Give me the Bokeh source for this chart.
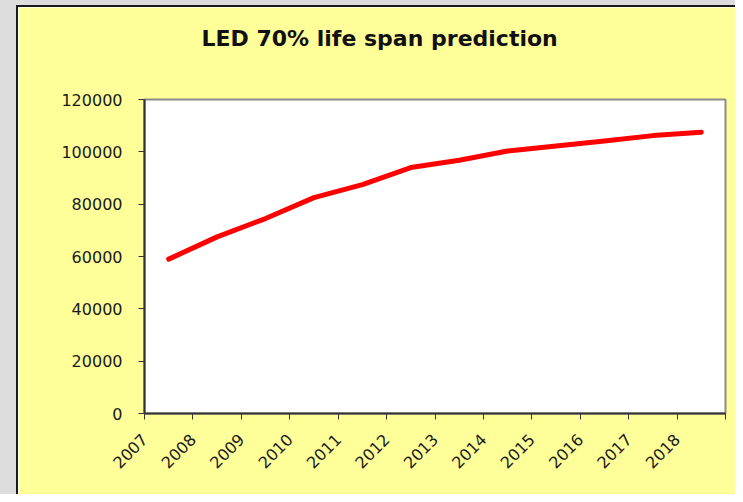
import math
from bokeh.plotting import figure
from bokeh.models import Range1d, FixedTicker, Spacer, LinearAxis
from bokeh.layouts import column, row
from bokeh.embed import file_html
from bokeh.resources import INLINE

title_text = "LED 70% life span prediction"
years = ["2007", "2008", "2009", "2010", "2011", "2012",
         "2013", "2014", "2015", "2016", "2017", "2018"]
life_hours = [59000, 67500, 74500, 82500, 87500, 94000,
              96800, 100300, 102200, 104100, 106200, 107500]
y_ticks = [0, 20000, 40000, 60000, 80000, 100000, 120000]
y_tick_labels = ["0", "20000", "40000", "60000", "80000", "100000", "120000"]

GRAY = "#DDDDDD"
YELLOW = "#FFFF99"
EDGE = "#1a1a1a"

n = len(years)
x_pos = [i + 0.5 for i in range(n)]

p = figure(width=717, height=487, output_backend="svg", toolbar_location=None,
           x_range=Range1d(0, n), y_range=Range1d(y_ticks[0], y_ticks[-1]),
           min_border_left=126, min_border_right=10, min_border_top=92,
           min_border_bottom=81)
p.border_fill_color = YELLOW
p.background_fill_color = "white"
p.outline_line_color = "#8C8C8C"
p.outline_line_width = 2
p.grid.visible = False

p.line(x_pos, life_hours, line_color="#FF0000", line_width=5, line_cap="round",
       line_join="round")

label_font = "DejaVu Sans"
p.xaxis.ticker = FixedTicker(ticks=list(range(n + 1)))
ov = {i: years[i] for i in range(n)}
ov[n] = ""
p.xaxis.major_label_overrides = ov
p.xaxis.major_label_orientation = math.pi / 4
p.yaxis.ticker = FixedTicker(ticks=y_ticks)
p.yaxis.major_label_overrides = {t: s for t, s in zip(y_ticks, y_tick_labels)}

for ax in (p.xaxis[0], p.yaxis[0]):
    ax.axis_line_color = "#333333"
    ax.axis_line_width = 2
    ax.major_tick_line_color = "#333333"
    ax.major_tick_line_width = 1
    ax.major_tick_out = 6
    ax.major_tick_in = 0
    ax.minor_tick_line_color = None
    ax.major_label_text_font = label_font
    ax.major_label_text_font_size = "16px"
    ax.major_label_text_color = "#1a1a1a"
p.xaxis.major_label_standoff = 17
p.yaxis.major_label_standoff = 16

# invisible spacer axis between the frame and the title
gap_axis = LinearAxis(ticker=FixedTicker(ticks=[n / 2]), axis_line_color=None,
                      major_tick_line_color=None, minor_tick_line_color=None,
                      major_tick_in=0, major_tick_out=47, minor_tick_in=0,
                      minor_tick_out=0, major_label_standoff=0,
                      major_label_overrides={n / 2: ""},
                      major_label_text_font_size="1px")
p.add_layout(gap_axis, "above")

p.title.text = title_text
p.title.align = "left"
p.title.offset = 57
p.title.standoff = 4
p.title.text_font = label_font
p.title.text_font_size = "22px"
p.title.text_font_style = "bold"
p.title.text_color = "#111111"

inner = column(
    Spacer(width=719, height=2, styles={"background-color": EDGE}),
    row(Spacer(width=2, height=487, styles={"background-color": EDGE}), p,
        spacing=0),
    spacing=0,
)
layout = column(
    Spacer(width=735, height=5, styles={"background-color": GRAY}),
    row(Spacer(width=16, height=489, styles={"background-color": GRAY}), inner,
        spacing=0),
    spacing=0,
)

open("out.html", "w").write(file_html(layout, INLINE))
